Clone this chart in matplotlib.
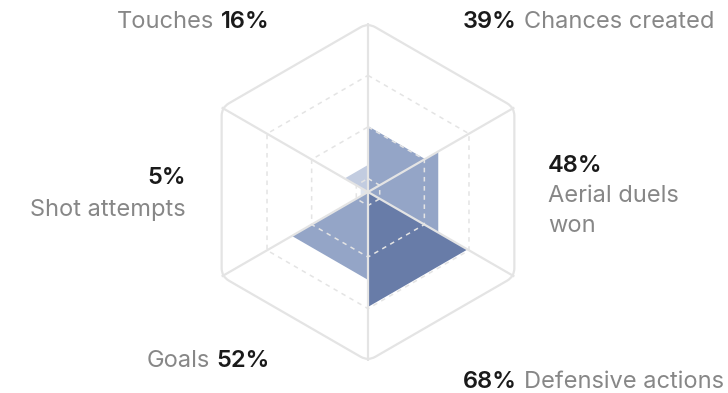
import numpy as np
import matplotlib.pyplot as plt
from matplotlib.path import Path
from matplotlib.patches import PathPatch, Polygon
from matplotlib.offsetbox import TextArea, HPacker, VPacker, AnnotationBbox

# Sectors go clockwise from the top vertex
metrics = ["Chances created", "Aerial duels won", "Defensive actions",
           "Goals", "Shot attempts", "Touches"]
values = [39, 48, 68, 52, 5, 16]
ring_levels = [0.08, 0.385, 0.69]

plt.rcParams['font.family'] = ['Inter', 'DejaVu Sans']

W, H = 728, 393
fig = plt.figure(figsize=(W / 100, H / 100), dpi=100)
ax = fig.add_axes([0, 0, 1, 1])
R = 169          # hexagon radius in pixels
cx, cy = 368, 192  # centre, pixels from top-left
ax.set_xlim(-cx / R, (W - cx) / R)
ax.set_ylim(-(H - cy) / R, cy / R)
ax.axis('off')

angles = np.deg2rad([90, 30, -30, -90, -150, 150])
verts = np.column_stack([np.cos(angles), np.sin(angles)])

GRID = '#e4e4e4'
GRAY = '#878787'
DARK = '#1a1a1a'


def shade(v):
    if v >= 60:
        return '#687ca8'
    if v >= 30:
        return '#94a5c7'
    if v >= 10:
        return '#c2cce0'
    return '#dfe4ee'


# filled wedges
for i, v in enumerate(values):
    a, b = verts[i], verts[(i + 1) % 6]
    s = v / 100
    ax.add_patch(Polygon([(0, 0), a * s, b * s], closed=True,
                         fc=shade(v), ec='none', zorder=1))

# dashed inner rings
for r in ring_levels:
    ax.add_patch(Polygon(verts * r, closed=True, fill=False, ec=GRID,
                         lw=1.1, ls=(0, (3, 3)), zorder=2))

# spokes
for p in verts:
    ax.plot([0, p[0]], [0, p[1]], color=GRID, lw=1.6, zorder=3,
            solid_capstyle='butt')


def rounded_polygon(pts, cut):
    path, codes = [], []
    n = len(pts)
    for i in range(n):
        p, prev, nxt = pts[i], pts[i - 1], pts[(i + 1) % n]
        path.append(p + (prev - p) * cut)
        codes.append(Path.MOVETO if i == 0 else Path.LINETO)
        path += [p, p + (nxt - p) * cut]
        codes += [Path.CURVE3, Path.CURVE3]
    path.append(path[0])
    codes.append(Path.CLOSEPOLY)
    return Path(path, codes)


ax.add_patch(PathPatch(rounded_polygon(verts, 0.05), fill=False, ec=GRID,
                       lw=1.6, zorder=3))

FS = 17


def piece(text, color, bold=False):
    return TextArea(text, textprops=dict(color=color, fontsize=FS,
                                         fontweight='semibold' if bold else 'normal'))


def place(box, x, y_top, ha):
    ab = AnnotationBbox(box, (x, H - y_top), xycoords='figure pixels',
                        box_alignment=(ha, 0.5), frameon=False, pad=0)
    fig.add_artist(ab)


def row(*parts):
    return HPacker(children=list(parts), sep=5, pad=0, align='baseline')


pct = [f"{v}%" for v in values]

place(row(piece(metrics[5], GRAY), piece(pct[5], DARK, True)), 270, 22, 1)
place(row(piece(pct[0], DARK, True), piece(metrics[0], GRAY)), 463, 22, 0)
place(VPacker(children=[piece(pct[1], DARK, True),
                        piece("Aerial duels", GRAY), piece("won", GRAY)],
              sep=6, pad=0, align='left'), 548, 196, 0)
place(row(piece(pct[2], DARK, True), piece(metrics[2], GRAY)), 463, 382, 0)
place(row(piece(metrics[3], GRAY), piece(pct[3], DARK, True)), 270, 361, 1)
place(VPacker(children=[piece(pct[4], DARK, True), piece(metrics[4], GRAY)],
              sep=7, pad=0, align='right'), 186, 194, 1)

fig.savefig('out.png', dpi=100)
